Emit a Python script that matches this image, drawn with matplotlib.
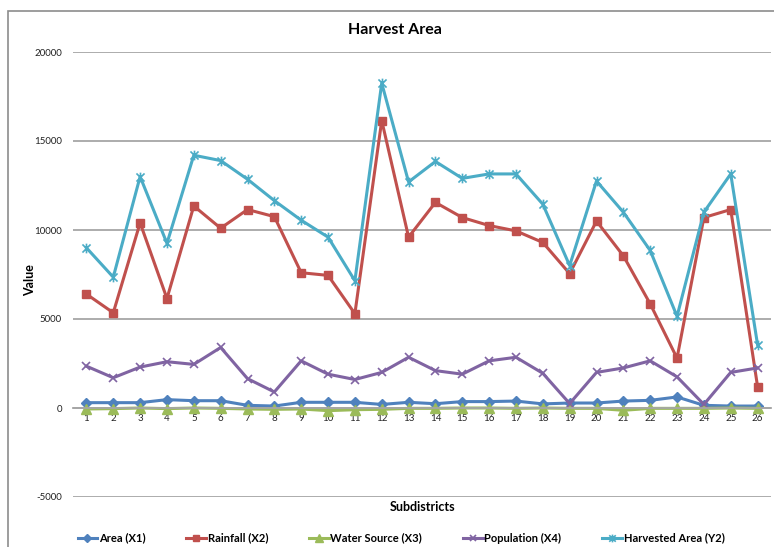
import matplotlib
matplotlib.use('Agg')
import matplotlib.pyplot as plt
from matplotlib.path import Path
from matplotlib.patches import Rectangle
import numpy as np

#данные графика (оценены по картинке)
subdistricts = list(range(1, 27))
area_x1 = [300, 300, 300, 470, 410, 410, 150, 110, 320, 320, 320, 200, 320,
           240, 360, 360, 390, 230, 280, 280, 390, 430, 620, 150, 110, 110]
rainfall_x2 = [6400, 5350, 10400, 6150, 11350, 10100, 11150, 10750, 7600, 7450,
               5300, 16150, 9600, 11550, 10700, 10250, 9950, 9300, 7550, 10500,
               8550, 5850, 2800, 10700, 11150, 1200]
water_x3 = [-55, -35, 0, -35, 0, -20, -55, -75, -55, -150, -95, -75, -20,
            -20, 0, 0, -20, 0, -20, -20, -130, -20, -20, -20, 0, -20]
population_x4 = [2350, 1700, 2300, 2600, 2450, 3400, 1650, 900, 2650, 1900,
                 1600, 2000, 2850, 2100, 1900, 2650, 2850, 1950, 250, 2000,
                 2250, 2650, 1750, 200, 2000, 2250]
harvested_y2 = [9000, 7350, 13000, 9250, 14200, 13900, 12850, 11650, 10550, 9600,
                7150, 18250, 12700, 13850, 12900, 13150, 13150, 11450, 8000, 12750,
                11000, 8850, 5150, 11000, 13150, 3550]
y_ticks = [-5000, 0, 5000, 10000, 15000, 20000]

#маркер-звёздочка как в Excel: крестик + вертикальная черта
star = Path([(-1, -1), (1, 1), (-1, 1), (1, -1), (0, -1.2), (0, 1.2)],
            [Path.MOVETO, Path.LINETO, Path.MOVETO, Path.LINETO, Path.MOVETO, Path.LINETO])

plt.rcParams['font.family'] = ['Lato', 'DejaVu Sans']
plt.rcParams['axes.unicode_minus'] = False

fig = plt.figure(figsize=(7.74, 5.47), dpi=100)
ax = fig.add_axes([73/774, 50/547, 698/774, 445/547])

#рамка диаграммы
fig.patches.append(Rectangle((8/774, -0.1), 1.2, (536/547) + 0.1, transform=fig.transFigure,
                             fill=False, edgecolor='#8c8c8c', linewidth=1.2))

x = np.array(subdistricts)
series = [
    (area_x1, 'Area (X1)', '#4F81BD', dict(marker='D', markersize=5)),
    (rainfall_x2, 'Rainfall (X2)', '#C0504D', dict(marker='s', markersize=6)),
    (water_x3, 'Water Source (X3)', '#9BBB59', dict(marker='^', markersize=6.5)),
    (population_x4, 'Population (X4)', '#8064A2', dict(marker='x', markersize=6, markeredgewidth=1.2)),
    (harvested_y2, 'Harvested Area (Y2)', '#4BACC6', dict(marker=star, markersize=7, markeredgewidth=1.2,
                                                          markerfacecolor='none')),
]
for vals, name, col, mk in series:
    ax.plot(x, vals, color=col, linewidth=2.2, label=name, **mk)

ax.set_xlim(0.5, 26.5)
ax.set_ylim(-5000, 20000)
ax.set_yticks(y_ticks)
ax.set_xticks(subdistricts)
ax.yaxis.grid(True, color='#a6a6a6', linewidth=1.3)
ax.set_axisbelow(True)
for s in ['top', 'right', 'left']:
    ax.spines[s].set_visible(False)
ax.spines['bottom'].set_position(('data', 0))
ax.spines['bottom'].set_color('#a6a6a6')
ax.spines['bottom'].set_linewidth(1.3)
ax.tick_params(axis='both', length=0, labelsize=7, colors='#222222')
ax.tick_params(axis='x', pad=4)
ax.tick_params(axis='y', pad=8)

fig.text(395/774, 1 - 30/547, 'Harvest Area', ha='center', va='center', fontsize=11.5, fontweight='bold')
fig.text(30/774, 1 - 280/547, 'Value', ha='center', va='center', rotation=90, fontsize=9, fontweight='bold')
fig.text(423/774, 1 - 507/547, 'Subdistricts', ha='center', va='center', fontsize=9, fontweight='bold')

fig.legend(loc='center', bbox_to_anchor=(401/774, 1 - 538/547), ncol=5, frameon=False,
           handlelength=1.75, handletextpad=0.15, columnspacing=3.7, markerscale=0.8,
           prop={'weight': 'bold', 'size': 8})

fig.savefig('out.png', dpi=100)
